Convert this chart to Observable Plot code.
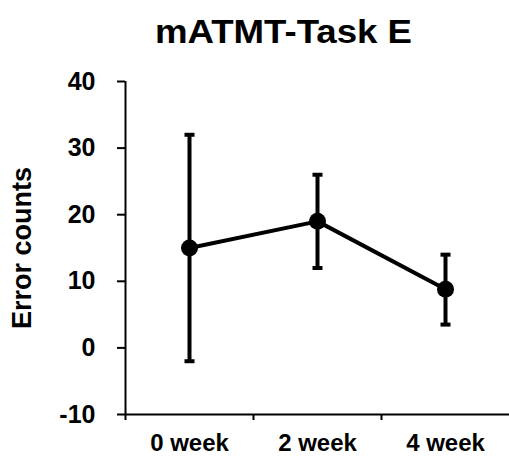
<!DOCTYPE html>
<html>
<head>
<meta charset="utf-8">
<script src="https://cdn.jsdelivr.net/npm/d3@7"></script>
<script src="https://cdn.jsdelivr.net/npm/@observablehq/plot@0.6"></script>
<style>
  html, body { margin: 0; padding: 0; background: #fff; overflow: hidden; }
  #title {
    width: 567px; height: 60px; box-sizing: border-box; padding-top: 15px;
    text-align: center; font-family: "Liberation Sans", Arial, sans-serif;
    font-weight: bold; font-size: 33px; line-height: 33px; color: #000;
    transform: scaleX(1.11); transform-origin: 283.5px 0;
    white-space: nowrap;
  }
  #chart svg { display: block; }
</style>
</head>
<body>
<div id="title"></div>
<div id="chart"></div>
<script>
const titleText = "mATMT-Task E";
const categories = ["0 week", "2 week", "4 week"];
const means = [15, 19, 8.8];
const lower = [-2, 12, 3.5];
const upper = [32, 26, 14];
const yTicks = [-10, 0, 10, 20, 30, 40];
const yLabel = "Error counts";

document.getElementById("title").textContent = titleText;

const data = categories.map((c, i) => ({i, c, mean: means[i], lo: lower[i], hi: upper[i]}));
const boundaries = categories.map((c, i) => i - 0.5);

const capSymbol = {
  draw(ctx) { ctx.rect(-5, -2, 10, 4); }
};

const plot = Plot.plot({
  width: 509,
  height: 396,
  marginLeft: 125,
  marginRight: 0,
  marginTop: 21,
  marginBottom: 42,
  style: {fontFamily: "'Liberation Sans', Arial, sans-serif", fontWeight: "bold", color: "#000", background: "#fff"},
  x: {type: "linear", domain: [-0.5, 2.5]},
  y: {domain: [-10, 40]},
  marks: [
    Plot.axisY({ticks: yTicks, tickSize: 8, tickPadding: 22, tickFormat: d => String(d), fontSize: 25, fontWeight: "bold", strokeWidth: 2, label: null}),
    Plot.axisX({ticks: boundaries, tickSize: 6, tickFormat: () => "", strokeWidth: 2, label: null}),
    Plot.axisX({ticks: data.map(d => d.i), tickSize: 0, tickPadding: 19, tickFormat: i => categories[i], fontSize: 24, fontWeight: "bold", label: null}),
    Plot.ruleX([-0.5], {stroke: "#000", strokeWidth: 2}),
    Plot.ruleY([-10], {stroke: "#000", strokeWidth: 2}),
    Plot.text([yLabel], {frameAnchor: "left", dx: -103, rotate: -90, textAnchor: "middle", lineAnchor: "middle", fontSize: 27, fontWeight: "bold", fill: "#000"}),
    Plot.ruleX(data, {x: "i", y1: "lo", y2: "hi", stroke: "#000", strokeWidth: 4}),
    Plot.dot(data, {x: "i", y: "hi", symbol: capSymbol, fill: "#000", stroke: "none"}),
    Plot.dot(data, {x: "i", y: "lo", symbol: capSymbol, fill: "#000", stroke: "none"}),
    Plot.line(data, {x: "i", y: "mean", stroke: "#000", strokeWidth: 4}),
    Plot.dot(data, {x: "i", y: "mean", r: 8.5, fill: "#000", stroke: "none"})
  ]
});
document.getElementById("chart").appendChild(plot);
</script>
</body>
</html>
